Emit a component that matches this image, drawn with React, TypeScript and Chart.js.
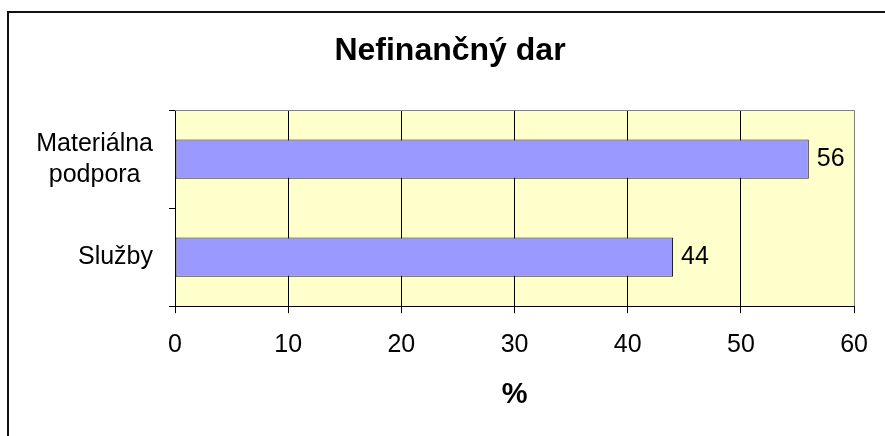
import React, { useEffect, useRef } from "react";
import { Chart, registerables } from "chart.js";

Chart.register(...registerables);

const categories: string[][] = [["Materiálna", "podpora"], ["Služby"]];
const values: number[] = [56, 44];
const xTicks: number[] = [0, 10, 20, 30, 40, 50, 60];
const chartTitle = "Nefinančný dar";
const xTitle = "%";

const FONT = "'Liberation Sans', Arial, sans-serif";

export default function App() {
  const ref = useRef<HTMLCanvasElement | null>(null);

  useEffect(() => {
    if (!ref.current) return;
    const bgPlugin = {
      id: "bgPlugin",
      beforeDraw(chart: any) {
        const { ctx, chartArea: a } = chart;
        ctx.save();
        ctx.fillStyle = "#ffffff";
        ctx.fillRect(0, 0, chart.width, chart.height);
        ctx.fillStyle = "#FFFFCC";
        ctx.fillRect(a.left, a.top, a.right - a.left, a.bottom - a.top);
        ctx.restore();
      },
      afterDraw(chart: any) {
        const { ctx, chartArea: a } = chart;
        ctx.save();
        // plot top border (grey)
        ctx.strokeStyle = "#808080";
        ctx.lineWidth = 1;
        ctx.beginPath();
        ctx.moveTo(a.left, Math.round(a.top) + 0.5);
        ctx.lineTo(a.right, Math.round(a.top) + 0.5);
        ctx.stroke();
        // outer frame (top and left visible)
        ctx.strokeStyle = "#111";
        ctx.lineWidth = 2;
        ctx.beginPath();
        ctx.moveTo(8, chart.height);
        ctx.lineTo(8, 12);
        ctx.lineTo(chart.width, 12);
        ctx.stroke();
        // chart title, centred on the frame
        ctx.fillStyle = "#000";
        ctx.textAlign = "center";
        ctx.textBaseline = "middle";
        ctx.font = `bold 32px ${FONT}`;
        ctx.fillText(chartTitle, (8 + chart.width + 7) / 2, 51);
        // y category labels
        const y = chart.scales.y;
        ctx.font = `25px ${FONT}`;
        const rightEdge = a.left - 22;
        const lh = 31;
        categories.forEach((lines, i) => {
          const cy = y.getPixelForValue(i);
          const w = Math.max(...lines.map((l) => ctx.measureText(l).width));
          const cx = rightEdge - w / 2;
          const start = cy - ((lines.length - 1) * lh) / 2;
          lines.forEach((l, j) => ctx.fillText(l, cx, start + j * lh));
        });
        // value labels
        const meta = chart.getDatasetMeta(0);
        ctx.textAlign = "left";
        meta.data.forEach((bar: any, i: number) => {
          ctx.fillText(String(values[i]), bar.x + 8, bar.y);
        });
        ctx.restore();
      },
    };

    const chart = new Chart(ref.current, {
      type: "bar",
      data: {
        labels: categories.map((c) => c.join(" ")),
        datasets: [
          {
            data: values,
            backgroundColor: "#9999FF",
            borderColor: "#222222",
            borderWidth: 1,
            borderSkipped: false,
            barPercentage: 0.4,
            categoryPercentage: 1.0,
          },
        ],
      },
      options: {
        indexAxis: "y",
        responsive: false,
        animation: false,
        layout: { padding: { left: 16, right: 29, top: 0, bottom: 22 } },
        plugins: {
          legend: { display: false },
          tooltip: { enabled: false },
          title: {
            display: true,
            text: chartTitle,
            color: "transparent",
            font: { family: FONT, size: 31, weight: "bold" },
            padding: { top: 31, bottom: 42 },
          },
        },
        scales: {
          x: {
            type: "linear",
            min: xTicks[0],
            max: xTicks[xTicks.length - 1],
            afterBuildTicks(scale: any) {
              scale.ticks = xTicks.map((v) => ({ value: v }));
            },
            ticks: {
              color: "#000",
              font: { family: FONT, size: 25 },
              padding: 17,
              maxRotation: 0,
            },
            grid: {
              color: (c: any) => (c.tick && c.tick.value === 60 ? "#808080" : "#000"),
              tickColor: "#000",
              tickLength: 7,
              lineWidth: 1,
            },
            border: { color: "#000", width: 1 },
            title: {
              display: true,
              text: xTitle,
              color: "#000",
              font: { family: FONT, size: 29, weight: "bold" },
              padding: { top: 0, bottom: 2 },
            },
          },
          y: {
            type: "category",
            offset: true,
            afterFit(scale: any) {
              scale.width = 159;
            },
            ticks: { color: "transparent", font: { family: FONT, size: 25 } },
            grid: {
              offset: true,
              drawOnChartArea: false,
              drawTicks: true,
              tickLength: 6,
              color: "#000",
              tickColor: "#000",
            },
            border: { color: "#000", width: 1 },
          },
        },
      },
      plugins: [bgPlugin],
    } as any);

    return () => chart.destroy();
  }, []);

  return (
    <canvas
      ref={ref}
      width={885}
      height={436}
      style={{ position: "fixed", left: 0, top: 0, width: 885, height: 436, display: "block" }}
    />
  );
}
